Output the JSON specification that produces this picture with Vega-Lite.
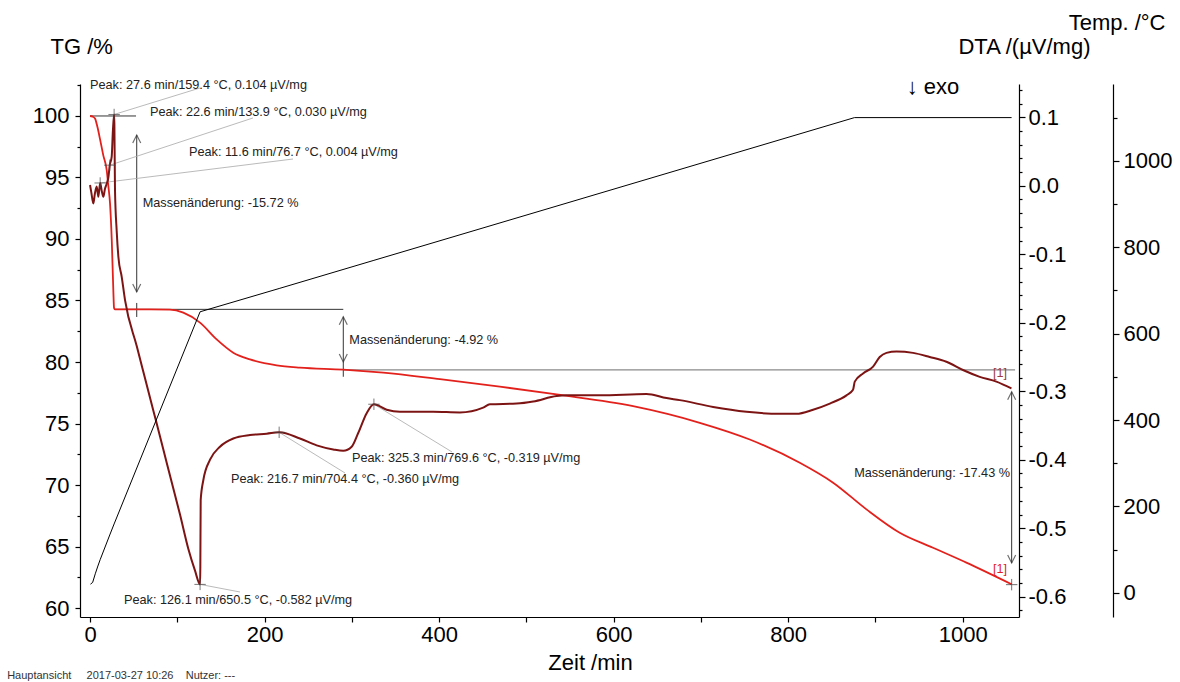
{
  "$schema": "https://vega.github.io/schema/vega-lite/v6.json",
  "width": 939,
  "height": 533,
  "autosize": {"type": "none"},
  "padding": {"left": 80, "top": 84, "right": 161, "bottom": 65},
  "background": "white",
  "config": {
    "font": "Liberation Sans",
    "view": {"stroke": null},
    "axis": {"grid": false, "domainColor": "#000", "tickColor": "#000", "labelColor": "#000", "titleColor": "#000", "labelFont": "Liberation Sans", "titleFont": "Liberation Sans", "labelFontSize": 22, "titleFontSize": 22, "titleFontWeight": "normal", "labelOverlap": false, "labelBound": false, "labelFlush": false, "domainWidth": 1.2, "tickWidth": 1.2},
    "text": {"font": "Liberation Sans"}
  },
  "datasets": {
    "tg": [{"t":0,"v":100},{"t":3,"v":99.95},{"t":5.7,"v":99.8},{"t":8.5,"v":99.1},{"t":11.5,"v":98.1},{"t":15.2,"v":96.8},{"t":19.1,"v":95.6},{"t":21,"v":94.3},{"t":22.9,"v":92.9},{"t":24.9,"v":89.9},{"t":26.7,"v":85.8},{"t":27.5,"v":84.4},{"t":28.5,"v":84.28},{"t":68.7,"v":84.28},{"t":91.6,"v":84.26},{"t":106.9,"v":84.01},{"t":126,"v":83.2},{"t":145.1,"v":81.84},{"t":164.1,"v":80.76},{"t":183.3,"v":80.21},{"t":213.9,"v":79.73},{"t":240.5,"v":79.54},{"t":290.2,"v":79.38},{"t":336,"v":79.13},{"t":401,"v":78.6},{"t":469.6,"v":78.0},{"t":534.6,"v":77.36},{"t":622.3,"v":76.41},{"t":698.7,"v":75.06},{"t":756,"v":73.7},{"t":813.3,"v":71.81},{"t":851.5,"v":70.19},{"t":889.7,"v":68.02},{"t":927.8,"v":66.12},{"t":966,"v":64.9},{"t":1004.2,"v":63.69},{"t":1056.1,"v":61.93}],
    "dta": [{"t":0,"v":0.001},{"t":1.5,"v":-0.01},{"t":3.8,"v":-0.026},{"t":5.5,"v":-0.012},{"t":7.6,"v":-0.001},{"t":9.5,"v":-0.016},{"t":11.6,"v":0.004},{"t":13.5,"v":-0.008},{"t":15.3,"v":-0.016},{"t":17,"v":-0.005},{"t":19.1,"v":0.003},{"t":21,"v":0.012},{"t":22.6,"v":0.03},{"t":24.8,"v":0.042},{"t":26.2,"v":0.08},{"t":27.6,"v":0.104},{"t":27.9,"v":0.09},{"t":28.6,"v":-0.006},{"t":30.5,"v":-0.065},{"t":32.5,"v":-0.104},{"t":36.3,"v":-0.133},{"t":40.1,"v":-0.167},{"t":53.5,"v":-0.234},{"t":63,"v":-0.281},{"t":72.5,"v":-0.328},{"t":84,"v":-0.385},{"t":93.6,"v":-0.433},{"t":103.1,"v":-0.48},{"t":112.6,"v":-0.53},{"t":120.3,"v":-0.562},{"t":126.1,"v":-0.582},{"t":126.4,"v":-0.556},{"t":126.8,"v":-0.459},{"t":129.8,"v":-0.43},{"t":137.5,"v":-0.4},{"t":148.9,"v":-0.381},{"t":164.2,"v":-0.369},{"t":183.3,"v":-0.364},{"t":202.4,"v":-0.362},{"t":216.7,"v":-0.36},{"t":240.5,"v":-0.369},{"t":259.7,"v":-0.379},{"t":278.7,"v":-0.385},{"t":290.2,"v":-0.387},{"t":299.8,"v":-0.381},{"t":307.3,"v":-0.361},{"t":317,"v":-0.332},{"t":325.3,"v":-0.319},{"t":339.9,"v":-0.327},{"t":355.1,"v":-0.33},{"t":393.2,"v":-0.33},{"t":423.8,"v":-0.331},{"t":450.5,"v":-0.324},{"t":458.2,"v":-0.319},{"t":488.8,"v":-0.318},{"t":507.8,"v":-0.315},{"t":534.6,"v":-0.307},{"t":546,"v":-0.306},{"t":584.2,"v":-0.306},{"t":637.7,"v":-0.304},{"t":660.6,"v":-0.31},{"t":675.8,"v":-0.313},{"t":714,"v":-0.323},{"t":752.2,"v":-0.33},{"t":790.4,"v":-0.333},{"t":809.5,"v":-0.333},{"t":828.5,"v":-0.327},{"t":847.7,"v":-0.318},{"t":866.8,"v":-0.306},{"t":874.3,"v":-0.298},{"t":876.3,"v":-0.286},{"t":885.8,"v":-0.274},{"t":897.3,"v":-0.264},{"t":904.9,"v":-0.25},{"t":912.6,"v":-0.244},{"t":924.1,"v":-0.242},{"t":943.1,"v":-0.244},{"t":962.2,"v":-0.25},{"t":981.3,"v":-0.257},{"t":1000.3,"v":-0.269},{"t":1019.5,"v":-0.279},{"t":1038.6,"v":-0.286},{"t":1055.8,"v":-0.296}],
    "temp": [{"t":0.5,"v":20},{"t":3,"v":24},{"t":6,"v":44},{"t":9,"v":62},{"t":11.6,"v":76.7},{"t":22.6,"v":133.9},{"t":27.6,"v":159.4},{"t":126.1,"v":650.5},{"t":216.7,"v":704.4},{"t":325.3,"v":769.6},{"t":876,"v":1100},{"t":1056,"v":1100}],
    "tgSegs": [{"t":0,"v":100,"t2":52.7,"v2":100},{"t":27.5,"v":84.28,"t2":290.2,"v2":84.28},{"t":53.5,"v":98.45,"t2":53.5,"v2":85.69},{"t":53.5,"v":84.8,"t2":53.5,"v2":83.66},{"t":290.2,"v":83.68,"t2":290.2,"v2":78.8},{"t":1056.1,"v":77.58,"t2":1056.1,"v2":63.66}],
    "tgRef": [{"t":290.2,"v":79.36,"t2":1060,"v2":79.36}],
    "arrowsUp": [{"t":53.5,"v":98.45},{"t":290.2,"v":83.68},{"t":1056.1,"v":77.58}],
    "arrowsDown": [{"t":53.5,"v":85.69},{"t":290.2,"v":80.0},{"t":1056.1,"v":63.66}],
    "tgCross": [{"t":1056.1,"v":61.9}],
    "massLeft": [{"t":60.3,"v":92.9,"label":"Massenänderung: -15.72 %"},{"t":297.1,"v":81.79,"label":"Massenänderung: -4.92 %"}],
    "massRight": [{"t":1054.2,"v":70.95,"label":"Massenänderung: -17.43 %"}],
    "exo": [{"t":935.8,"v":102.38,"label":"↓ exo"}],
    "tagDta": [{"t":1042.7,"v":79.1,"label":"[1]"}],
    "tagTg": [{"t":1042.7,"v":63.14,"label":"[1]"}],
    "footer": [{"t":-95,"v":54.47,"label":"Hauptansicht\u00a0\u00a0\u00a0\u00a0\u00a02017-03-27 10:26\u00a0\u00a0\u00a0\u00a0Nutzer: ---"}],
    "peaks": [{"t":27.6,"v":0.104},{"t":22.6,"v":0.03},{"t":11.6,"v":0.004},{"t":126.1,"v":-0.582},{"t":216.7,"v":-0.36},{"t":325.3,"v":-0.319}],
    "leaders": [{"t":27.6,"v":0.104,"t2":126.0,"v2":0.1427},{"t":22.6,"v":0.03,"t2":186.7,"v2":0.0989},{"t":11.6,"v":0.004,"t2":232.6,"v2":0.039},{"t":126.1,"v":-0.582,"t2":171.8,"v2":-0.5931},{"t":216.7,"v":-0.36,"t2":292.2,"v2":-0.4194},{"t":325.3,"v":-0.319,"t2":414.8,"v2":-0.3887}],
    "peakLabels": [{"t":0,"v":0.147,"label":"Peak: 27.6 min/159.4 °C, 0.104 µV/mg"},{"t":68.7,"v":0.1076,"label":"Peak: 22.6 min/133.9 °C, 0.030 µV/mg"},{"t":113.4,"v":0.0492,"label":"Peak: 11.6 min/76.7 °C, 0.004 µV/mg"},{"t":38.9,"v":-0.6048,"label":"Peak: 126.1 min/650.5 °C, -0.582 µV/mg"},{"t":161.5,"v":-0.4281,"label":"Peak: 216.7 min/704.4 °C, -0.360 µV/mg"},{"t":300.2,"v":-0.3975,"label":"Peak: 325.3 min/769.6 °C, -0.319 µV/mg"}]
  },
  "encoding": {
    "x": {"field": "t", "type": "quantitative", "scale": {"domain": [-11.5, 1064.5], "nice": false, "zero": false},
      "axis": {"values": [0,100,200,300,400,500,600,700,800,900,1000], "labelExpr": "datum.value % 200 === 0 ? format(datum.value, 'd') : ''", "tickSize": 5, "labelPadding": 2, "title": "Zeit /min", "titleX": 510, "titleY": 45, "titleAlign": "center", "titleBaseline": "middle"}}
  },
  "layer": [
    {
      "encoding": {"y": {"field": "v", "type": "quantitative", "scale": {"domain": [59.27, 102.6], "nice": false, "zero": false},
        "axis": {"orient": "left", "values": [60,62.5,65,67.5,70,72.5,75,77.5,80,82.5,85,87.5,90,92.5,95,97.5,100,102.5], "labelExpr": "datum.value % 5 === 0 ? format(datum.value, 'd') : ''", "tickSize": {"condition": {"test": "datum.value % 5 === 0", "value": 5}, "value": 3}, "labelPadding": 6, "title": "TG /%", "titleAngle": 0, "titleX": -30, "titleY": -38, "titleAlign": "left", "titleBaseline": "middle"}}},
      "layer": [
        {"data": {"name": "tgRef"}, "mark": {"type": "rule", "color": "#8a8a8a", "strokeWidth": 1.2}, "encoding": {"x2": {"field": "t2"}, "y2": {"field": "v2"}}},
        {"data": {"name": "tgSegs"}, "mark": {"type": "rule", "color": "#333333", "strokeWidth": 1}, "encoding": {"x2": {"field": "t2"}, "y2": {"field": "v2"}}},
        {"data": {"name": "arrowsUp"}, "mark": {"type": "point", "shape": "M-0.8,1.6L0,0L0.8,1.6", "size": 100, "filled": false, "color": "#333333", "strokeWidth": 1.2}},
        {"data": {"name": "arrowsDown"}, "mark": {"type": "point", "shape": "M-0.8,-1.6L0,0L0.8,-1.6", "size": 100, "filled": false, "color": "#333333", "strokeWidth": 1.2}},
        {"data": {"name": "tg"}, "mark": {"type": "line", "color": "#e3211c", "strokeWidth": 1.8, "interpolate": "monotone"}},
        {"data": {"name": "tgCross"}, "mark": {"type": "point", "shape": "M-1,0L1,0M0,-1L0,1", "size": 130, "filled": false, "color": "#333333", "strokeWidth": 1}},
        {"data": {"name": "massLeft"}, "mark": {"type": "text", "align": "left", "baseline": "middle", "fontSize": 12.7, "color": "#222222"}, "encoding": {"text": {"field": "label"}}},
        {"data": {"name": "massRight"}, "mark": {"type": "text", "align": "right", "baseline": "middle", "fontSize": 12.7, "color": "#222222"}, "encoding": {"text": {"field": "label"}}},
        {"data": {"name": "exo"}, "mark": {"type": "text", "align": "left", "baseline": "middle", "fontSize": 22, "color": "#000000"}, "encoding": {"text": {"field": "label"}}},
        {"data": {"name": "tagDta"}, "mark": {"type": "text", "align": "center", "baseline": "middle", "fontSize": 12.7, "color": "#a13a3a"}, "encoding": {"text": {"field": "label"}}},
        {"data": {"name": "tagTg"}, "mark": {"type": "text", "align": "center", "baseline": "middle", "fontSize": 12.7, "color": "#e3211c"}, "encoding": {"text": {"field": "label"}}},
        {"data": {"name": "footer"}, "mark": {"type": "text", "align": "left", "baseline": "middle", "fontSize": 11, "color": "#333333"}, "encoding": {"text": {"field": "label"}}}
      ]
    },
    {
      "encoding": {"y": {"field": "v", "type": "quantitative", "scale": {"domain": [-0.6296, 0.1485], "nice": false, "zero": false},
        "axis": {"orient": "right", "values": [-0.62,-0.6,-0.58,-0.56,-0.54,-0.52,-0.5,-0.48,-0.46,-0.44,-0.42,-0.4,-0.38,-0.36,-0.34,-0.32,-0.3,-0.28,-0.26,-0.24,-0.22,-0.2,-0.18,-0.16,-0.14,-0.12,-0.1,-0.08,-0.06,-0.04,-0.02,0,0.02,0.04,0.06,0.08,0.1,0.12,0.14], "labelExpr": "abs(datum.value*10 - round(datum.value*10)) < 0.001 ? (datum.value < -0.001 ? '-' : '') + format(abs(datum.value), '.1f') : ''", "tickSize": {"condition": {"test": "abs(datum.value*10 - round(datum.value*10)) < 0.001", "value": 6}, "value": 3}, "labelPadding": 3, "title": "DTA /(µV/mg)", "titleAngle": 0, "titleX": 71, "titleY": -38, "titleAlign": "right", "titleBaseline": "middle"}}},
      "layer": [
        {"data": {"name": "leaders"}, "mark": {"type": "rule", "color": "#a8a8a8", "strokeWidth": 0.8}, "encoding": {"x2": {"field": "t2"}, "y2": {"field": "v2"}}},
        {"data": {"name": "dta"}, "mark": {"type": "line", "color": "#7d1414", "strokeWidth": 2, "interpolate": "monotone"}},
        {"data": {"name": "peaks"}, "mark": {"type": "point", "shape": "M-1,0L1,0M0,-1L0,1", "size": 130, "filled": false, "color": "#444444", "strokeWidth": 1}},
        {"data": {"name": "peakLabels"}, "mark": {"type": "text", "align": "left", "baseline": "middle", "fontSize": 12.7, "color": "#222222"}, "encoding": {"text": {"field": "label"}}}
      ]
    },
    {
      "encoding": {"y": {"field": "v", "type": "quantitative", "scale": {"domain": [-56, 1177.8], "nice": false, "zero": false},
        "axis": {"orient": "right", "offset": 94, "values": [0,100,200,300,400,500,600,700,800,900,1000,1100], "labelExpr": "datum.value % 200 === 0 ? format(datum.value, 'd') : ''", "tickSize": {"condition": {"test": "datum.value % 200 === 0", "value": 6}, "value": 4}, "labelPadding": 4, "title": "Temp. /°C", "titleAngle": 0, "titleX": 52, "titleY": -62, "titleAlign": "right", "titleBaseline": "middle"}}},
      "layer": [
        {"data": {"name": "temp"}, "mark": {"type": "line", "color": "#000000", "strokeWidth": 1}}
      ]
    }
  ],
  "resolve": {"scale": {"y": "independent"}}
}
